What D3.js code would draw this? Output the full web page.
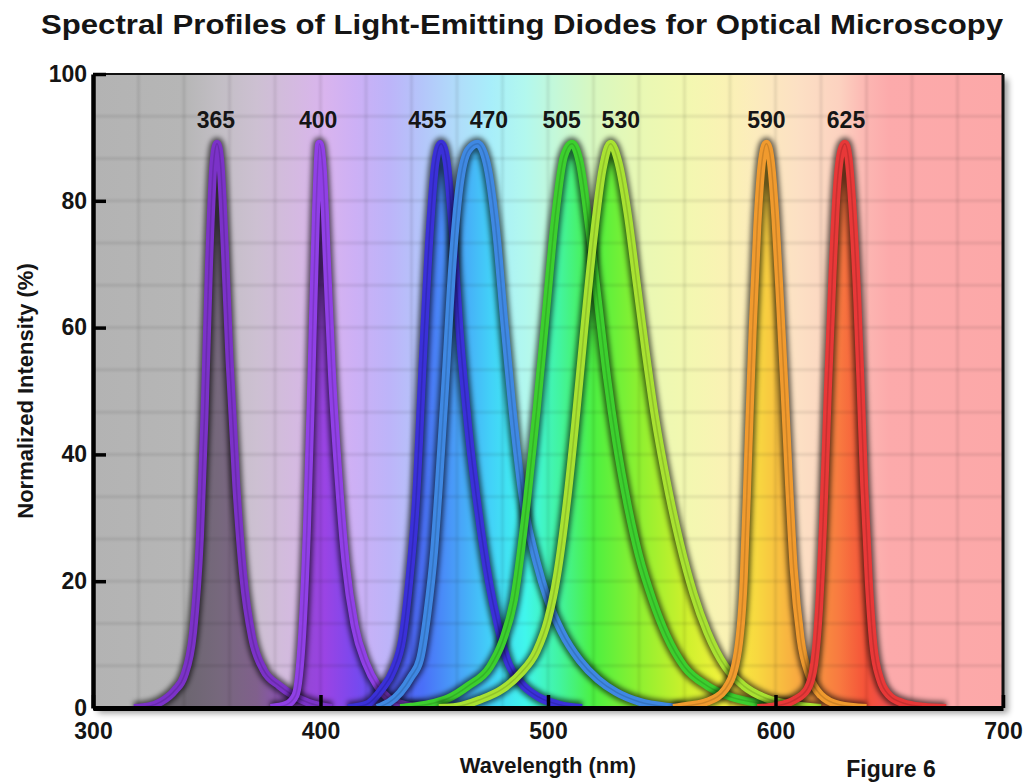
<!DOCTYPE html>
<html>
<head>
<meta charset="utf-8">
<script src="https://cdn.jsdelivr.net/npm/d3@7"></script>
<style>
  body { margin: 0; background: #fff; }
  text { font-family: "Liberation Sans", Arial, sans-serif; font-weight: bold; fill: #151515; }
</style>
</head>
<body>
<svg width="1026" height="784"></svg>
<script>
// LED spectra: [wavelength nm, normalized intensity %]
var led365 = [[318,0],[325,0.3],[330,1],[336,2.8],[340,5],[344,12],[347,27],[349,46],[351,70],[353,86],[354.5,89],[356,86],[358,72],[360,55],[363,35],[366,21],[370,11],[375,6],[382,3.5],[388,2],[395,0.8],[405,0]];
var led400 = [[378,0],[385,0.5],[389,2],[392,12],[394,28],[396,52],[398,78],[399.5,89],[401,85],[403,69],[405,53],[408,36],[411,23],[415,13],[420,7],[425,3.5],[430,1.5],[438,0.4],[446,0]];
var led455 = [[412,0],[420,0.5],[427,3],[432,6],[436,11],[439,20],[442,33],[445,55],[448,75],[450.5,86],[453,89],[455.5,86],[458,76],[461,60],[465,44],[469,32],[474,20],[478,13],[482,7.6],[488,4],[496,1.7],[505,0.5],[515,0]];
var led470 = [[425,0],[435,2.4],[440,5],[443.7,7.6],[447,15],[450,25],[452,35],[455,52],[458,70],[461,82],[465,88],[469,89],[473,86],[477,76],[481,60],[485,45],[489,33],[495,23],[500,17],[506,12],[514,7.5],[522,4.5],[530,2.5],[540,1],[552,0.2],[560,0]];
var led505 = [[435,0],[440,0.2],[450,0.8],[456,1.5],[465,3.5],[474.5,6.5],[480,10.5],[485,17],[490.8,32.8],[495,47],[499,62],[503,77],[507,87],[510.5,89],[514,86],[518,76],[522,64],[526,52],[530,42],[535,32],[540,24],[546,17],[552,11.5],[560,6.5],[570,3.5],[580,1.8],[592,0.8],[605,0.2],[612,0]];
var led530 = [[452,0],[460,0.2],[470,1.3],[480,3],[488,5.5],[495,9],[500,14],[504,21],[508.4,32.8],[512,45],[516,60],[520,74],[524,85],[527.5,89],[531,86],[535,78],[539,67],[543,56],[547,46],[552,36],[558,26],[564,18],[570,12],[578,6.5],[586,3.5],[596,1.5],[608,0.5],[620,0]];
var led590 = [[555,0],[562,0.4],[570,1],[578,3],[583,8],[586,20],[588,40],[590,60],[592,76],[594,86],[596,89],[598,86],[600,77],[602,64],[604,50],[606,35],[608,22],[611,11],[615,5],[620,2],[628,0.5],[640,0]];
var led625 = [[592,0],[600,0.3],[608,1.2],[614,3],[617,7],[619,15],[621,30],[623,50],[625,68],[627,82],[629,88],[630.5,89],[632,87],[634,78],[636,64],[637.5,50],[639,35],[641,20],[643,10],[646,4.5],[650,2],[656,0.8],[665,0.2],[675,0]];

var series = [led365, led400, led455, led470, led505, led530, led590, led625];
var ledLabels = ["365", "400", "455", "470", "505", "530", "590", "625"];
var labelAt = [354, 399, 447, 474, 506, 532, 596, 631];

var xTicks = [300, 400, 500, 600, 700];
var yTicks = [0, 20, 40, 60, 80, 100];

// colours
var ledColors = ["#7b32c8", "#9040e6", "#3a30d8", "#3f88e2", "#3ccf2e", "#a8e232", "#f09a2e", "#e83838"];
var stopNm    = [300, 340, 355, 372, 390, 402, 415, 430, 445, 460, 475, 490, 505, 520, 540, 560, 578, 592, 610, 628, 640, 650, 700];
var stopLight = ["#b3b3b3","#b6b6b6","#c2bec4","#cdc0d2","#d5b9e2","#d9b4ee","#cdb0f5","#bdb4f9","#b4c6fa","#b0dcfa","#a8eefa","#b2f8ee","#c6f8d6","#d8f8c0","#e8f8b4","#f2f8b0","#faf2b4","#fcebbd","#fce0c4","#fcd2c0","#fcb6b2","#fcaaab","#fca8a8"];
var stopVivid = ["#6a666c","#6c6670","#76687c","#80608c","#9248d0","#9a44e4","#7a48ee","#5558f4","#4a70f8","#48a0f8","#42d2f8","#40f6ec","#42f4a0","#4cf040","#8ef030","#ccf02c","#f6f23e","#f8d840","#f8a840","#f87a40","#f45038","#f05050","#f05050"];

var svg = d3.select("svg");
var W = 1026, H = 784;
var margin = {left: 93, right: 23, top: 74, bottom: 76};
var x0 = margin.left, x1 = W - margin.right, y0 = margin.top, y1 = H - margin.bottom;

var x = d3.scaleLinear().domain([300, 700]).range([x0, x1]);
var y = d3.scaleLinear().domain([0, 100]).range([y1, y0]);

var defs = svg.append("defs");

function addGradient(id, colors) {
  var g = defs.append("linearGradient").attr("id", id)
    .attr("gradientUnits", "userSpaceOnUse")
    .attr("x1", x(300)).attr("x2", x(700)).attr("y1", 0).attr("y2", 0);
  g.selectAll("stop").data(stopNm).join("stop")
    .attr("offset", function(d){ return (d - 300) / 400; })
    .attr("stop-color", function(d, i){ return colors[i]; });
}
addGradient("light", stopLight);
addGradient("vivid", stopVivid);

defs.append("filter").attr("id", "blur").attr("x", "-20%").attr("y", "-20%").attr("width", "140%").attr("height", "140%")
  .append("feGaussianBlur").attr("stdDeviation", 2.4);
defs.append("filter").attr("id", "soft").attr("x", "-5%").attr("y", "-5%").attr("width", "110%").attr("height", "110%")
  .append("feGaussianBlur").attr("stdDeviation", 3);
defs.append("filter").attr("id", "gridblur")
  .append("feGaussianBlur").attr("stdDeviation", 0.8);

var line = d3.line().x(function(d){ return x(d[0]); }).y(function(d){ return y(d[1]); }).curve(d3.curveMonotoneX);
var area = d3.area().x(function(d){ return x(d[0]); }).y0(y(0)).y1(function(d){ return y(d[1]); }).curve(d3.curveMonotoneX);

defs.append("clipPath").attr("id", "under")
  .selectAll("path").data(series).join("path").attr("d", area);
defs.append("clipPath").attr("id", "plot")
  .append("rect").attr("x", x0).attr("y", y0).attr("width", x1 - x0).attr("height", y1 - y0);

// frame drop shadow
svg.append("rect")
  .attr("x", x0 + 5).attr("y", y0 + 5).attr("width", x1 - x0).attr("height", y1 - y0)
  .attr("fill", "#000").attr("opacity", 0.4).attr("filter", "url(#soft)");

// backgrounds
svg.append("rect")
  .attr("x", x0).attr("y", y0).attr("width", x1 - x0).attr("height", y1 - y0)
  .attr("fill", "url(#light)");
svg.append("rect")
  .attr("x", x0).attr("y", y0).attr("width", x1 - x0).attr("height", y1 - y0)
  .attr("fill", "url(#vivid)").attr("clip-path", "url(#under)");

// grid
var grid = svg.append("g").attr("clip-path", "url(#plot)").attr("filter", "url(#gridblur)");
grid.selectAll("line.v").data(d3.range(320, 700, 20)).join("line").attr("class", "v")
  .attr("x1", function(d){ return x(d); }).attr("x2", function(d){ return x(d); })
  .attr("y1", y0).attr("y2", y1)
  .attr("stroke", "#000").attr("stroke-opacity", 0.08).attr("stroke-width", 3);
grid.selectAll("line.h").data(d3.range(1, 15).map(function(i){ return i * 100 / 15; })).join("line").attr("class", "h")
  .attr("x1", x0).attr("x2", x1)
  .attr("y1", function(d){ return y(d); }).attr("y2", function(d){ return y(d); })
  .attr("stroke", "#000").attr("stroke-opacity", 0.08).attr("stroke-width", 3);

// curves
var curves = svg.append("g").attr("clip-path", "url(#plot)");
var led = curves.selectAll("g").data(series).join("g");
led.append("path").attr("d", line).attr("fill", "none")
  .attr("stroke", "#000").attr("stroke-opacity", 0.6).attr("stroke-width", 13)
  .attr("filter", "url(#blur)");
led.append("path").attr("d", line).attr("fill", "none")
  .attr("stroke", function(d, i){ return ledColors[i]; }).attr("stroke-width", 8)
  .attr("stroke-linejoin", "round");
led.append("path").attr("d", line).attr("fill", "none")
  .attr("stroke", function(d, i){ return d3.color(ledColors[i]).darker(1.2); })
  .attr("stroke-opacity", 0.4).attr("stroke-width", 1.5);

// peak labels
svg.append("g").selectAll("text").data(ledLabels).join("text")
  .attr("x", function(d, i){ return x(labelAt[i]); })
  .attr("y", 128)
  .attr("text-anchor", "middle")
  .attr("font-size", 23)
  .text(function(d){ return d; });

// frame
svg.append("line").attr("x1", x0).attr("x2", x1).attr("y1", y0).attr("y2", y0)
  .attr("stroke", "#111").attr("stroke-width", 2);
svg.append("line").attr("x1", x1).attr("x2", x1).attr("y1", y0).attr("y2", y1)
  .attr("stroke", "#111").attr("stroke-width", 3);

// axes
var yAxis = svg.append("g").attr("transform", "translate(" + x0 + ",0)")
  .call(d3.axisLeft(y).tickValues(yTicks).tickSizeInner(-13).tickSizeOuter(0).tickPadding(6));
var xAxis = svg.append("g").attr("transform", "translate(0," + y1 + ")")
  .call(d3.axisBottom(x).tickValues(xTicks).tickSizeInner(-13).tickSizeOuter(0).tickPadding(15));

[yAxis, xAxis].forEach(function(a){
  a.select(".domain").attr("stroke", "#000").attr("stroke-width", 4.5);
  a.selectAll(".tick line").attr("stroke", "#000").attr("stroke-width", 3.5);
  a.selectAll(".tick text").attr("font-size", 23).attr("font-family", "Liberation Sans, Arial, sans-serif")
    .attr("font-weight", "bold").attr("fill", "#151515");
});
xAxis.select(".domain").attr("stroke-width", 5);

// titles
svg.append("text").attr("x", 522).attr("y", 34).attr("text-anchor", "middle")
  .attr("font-size", 27).attr("textLength", 962).attr("lengthAdjust", "spacingAndGlyphs")
  .text("Spectral Profiles of Light-Emitting Diodes for Optical Microscopy");
svg.append("text").attr("x", (x0 + x1) / 2).attr("y", 773).attr("text-anchor", "middle")
  .attr("font-size", 22)
  .text("Wavelength (nm)");
svg.append("text").attr("transform", "translate(33," + ((y0 + y1) / 2) + ") rotate(-90)")
  .attr("text-anchor", "middle").attr("font-size", 22)
  .text("Normalized Intensity (%)");
svg.append("text").attr("x", 891).attr("y", 777).attr("text-anchor", "middle")
  .attr("font-size", 23)
  .text("Figure 6");
</script>
</body>
</html>
